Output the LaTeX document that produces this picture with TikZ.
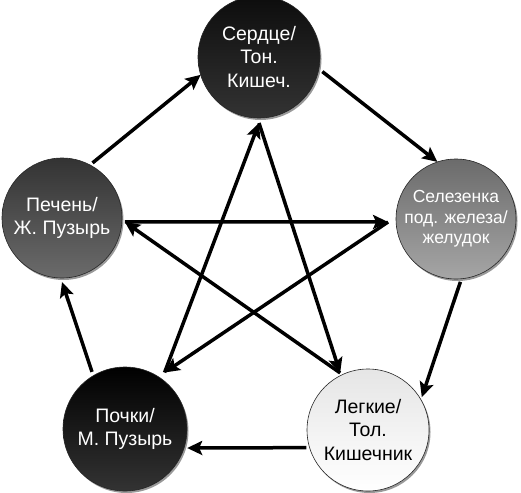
\documentclass[tikz,border=0pt]{standalone}
\usepackage{fontspec}
\setmainfont{Liberation Sans}
\usetikzlibrary{arrows.meta,shadows,calc}
\begin{document}
\begin{tikzpicture}[x=1pt,y=-1pt,
  elem/.style={circle, inner sep=0pt, draw=black!85, line width=0.6pt, align=center,
     font=\fontsize{19.5}{23.5}\selectfont, text=white,
     drop shadow={shadow xshift=1.5pt, shadow yshift=-2pt, opacity=0.4, fill=black}},
  arr/.style={line width=3.5pt, -{Stealth[length=15pt,width=14pt,inset=3pt]}},
]
\useasboundingbox (0,0) rectangle (521,492);
\node[elem, minimum size=122pt, top color=black!95, bottom color=black!80] (T) at (259,57) {Сердце/\\Тон.\\Кишеч.};
\node[elem, minimum size=120pt, top color=black!58, bottom color=black!35,
      font=\fontsize{17.5}{20.5}\selectfont] (R) at (456,219) {Селезенка\\под. железа/\\желудок};
\node[elem, minimum size=122pt, top color=black!10, bottom color=white, text=black] (BR) at (368,430) {Легкие/\\Тол.\\Кишечник};
\node[elem, minimum size=120pt, top color=black!80, bottom color=black!58] (L) at (62,218) {Печень/\\Ж. Пузырь};
\node[elem, minimum size=124pt, top color=black, bottom color=black!80] (BL) at (125,429) {Почки/\\М. Пузырь};
% star points
\path (T.center) ++(-90:66pt) coordinate (sT);
\path (R.center) ++(182.5:68pt) coordinate (sR);
\path (BR.center) ++(116:63.5pt) coordinate (sBR);
\path (BL.center) ++(55:69pt) coordinate (sBL);
\path (L.center) ++(-3.6:63pt) coordinate (sL);
% outer cycle
\draw[arr] ($(L.center)+(61:63pt)$) -- ($(T.center)+(197:61pt)$);
\draw[arr] ($(T.center)+(-13:65pt)$) -- ($(R.center)+(108:60pt)$);
\draw[arr] ($(R.center)+(-86:63pt)$) -- ($(BR.center)+(31.4:63pt)$);
\draw[arr] ($(BR.center)+(196:64pt)$) -- ($(BL.center)+(-17:65pt)$);
\draw[arr] ($(BL.center)+(120:66pt)$) -- ($(L.center)+(-90:64pt)$);
% star
\draw[arr] (sL) -- (sR);
\draw[arr] (sR) -- (sBL);
\draw[arr] (sBL) -- (sT);
\draw[arr] (sT) -- (sBR);
\draw[arr] (sBR) -- (sL);
\end{tikzpicture}
\end{document}
